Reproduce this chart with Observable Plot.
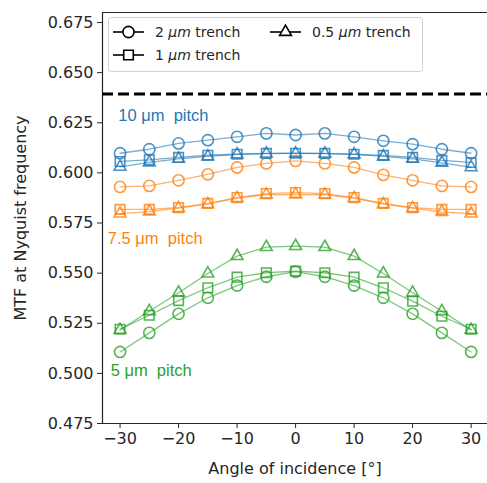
<!DOCTYPE html>
<html>
<head>
<meta charset="utf-8">
<script src="https://cdn.jsdelivr.net/npm/d3@7"></script>
<script src="https://cdn.jsdelivr.net/npm/@observablehq/plot@0.6"></script>
<style>
  html, body { margin: 0; padding: 0; background: #fff; }
  #chart { position: relative; width: 487px; height: 483px; }
</style>
</head>
<body>
<div id="chart"></div>
<script>
// ---- data ----
const angles = [-30, -25, -20, -15, -10, -5, 0, 5, 10, 15, 20, 25, 30];
const pitches = ["10 μm", "7.5 μm", "5 μm"];
const trenches = ["2 μm", "1 μm", "0.5 μm"];
const pitchColors = ["#1f77b4", "#ff7f0e", "#2ca02c"];
const trenchSymbols = ["circle", "square", "triangle"];

// 10 µm pitch
const p10_t2  = [0.6098, 0.6118, 0.6147, 0.6163, 0.6180, 0.6197, 0.6189, 0.6197, 0.6180, 0.6160, 0.6143, 0.6118, 0.6098];
const p10_t1  = [0.6057, 0.6065, 0.6077, 0.6088, 0.6093, 0.6097, 0.6098, 0.6097, 0.6093, 0.6087, 0.6077, 0.6062, 0.6052];
const p10_t05 = [0.6030, 0.6052, 0.6070, 0.6082, 0.6092, 0.6096, 0.6097, 0.6096, 0.6092, 0.6082, 0.6070, 0.6050, 0.6028];
// 7.5 µm pitch
const p75_t2  = [0.5930, 0.5935, 0.5963, 0.5993, 0.6027, 0.6047, 0.6060, 0.6047, 0.6027, 0.5990, 0.5963, 0.5935, 0.5930];
const p75_t1  = [0.5818, 0.5818, 0.5827, 0.5848, 0.5877, 0.5897, 0.5902, 0.5897, 0.5877, 0.5848, 0.5827, 0.5818, 0.5818];
const p75_t05 = [0.5797, 0.5807, 0.5824, 0.5844, 0.5874, 0.5891, 0.5892, 0.5891, 0.5874, 0.5844, 0.5824, 0.5805, 0.5797];
// 5 µm pitch
const p5_t2   = [0.5107, 0.5202, 0.5297, 0.5377, 0.5438, 0.5482, 0.5507, 0.5482, 0.5438, 0.5377, 0.5297, 0.5202, 0.5107];
const p5_t1   = [0.5220, 0.5290, 0.5363, 0.5427, 0.5480, 0.5502, 0.5510, 0.5502, 0.5480, 0.5427, 0.5360, 0.5285, 0.5220];
const p5_t05  = [0.5217, 0.5310, 0.5402, 0.5498, 0.5585, 0.5630, 0.5635, 0.5630, 0.5585, 0.5498, 0.5402, 0.5310, 0.5217];

const seriesValues = [
  [p10_t2, p10_t1, p10_t05],
  [p75_t2, p75_t1, p75_t05],
  [p5_t2, p5_t1, p5_t05]
];

const referenceMTF = 0.6393;

const xTicks = [-30, -20, -10, 0, 10, 20, 30];
const yTicks = [0.475, 0.500, 0.525, 0.550, 0.575, 0.600, 0.625, 0.650, 0.675];
const xDomain = [-33, 32.8];
const yDomain = [0.475, 0.68];

const annotationText = ["10 μm  pitch", "7.5 μm  pitch", "5 μm  pitch"];
const annotationX = [-30.3, -32.1, -31.6];
const annotationY = [0.6286, 0.5673, 0.5014];

// ---- tidy table ----
const rows = [];
pitches.forEach((p, i) => trenches.forEach((t, j) => {
  seriesValues[i][j].forEach((v, k) => rows.push({
    pitch: p, trench: t, symbol: trenchSymbols[j], key: p + "|" + t, angle: angles[k], mtf: v
  }));
}));
const annotations = pitches.map((p, i) => ({pitch: p, text: annotationText[i], x: annotationX[i], y: annotationY[i]}));

const symbolR = {circle: 5.6, square: 5.4, triangle: 4.4};

const chart = Plot.plot({
  width: 487,
  height: 483,
  marginLeft: 102,
  marginRight: 0,
  marginTop: 12,
  marginBottom: 60,
  style: {fontFamily: "DejaVu Sans", fontSize: "16px", color: "#262626", background: "#fff"},
  x: {domain: xDomain},
  y: {domain: yDomain},
  color: {domain: pitches, range: pitchColors},
  marks: [
    Plot.ruleX([xDomain[0]], {stroke: "#262626", strokeWidth: 1.2}),
    Plot.ruleY(yDomain, {stroke: "#262626", strokeWidth: 1.2}),
    Plot.axisX({ticks: xTicks, tickFormat: d3.format("d"), tickSize: 5, tickPadding: 4,
      label: "Angle of incidence [°]", labelAnchor: "center", labelArrow: "none", labelOffset: 50, stroke: "#262626"}),
    Plot.axisY({ticks: yTicks, tickFormat: d3.format(".3f"), tickSize: 5, tickPadding: 4,
      label: "MTF at Nyquist frequency", labelAnchor: "center", labelArrow: "none", labelOffset: 88, stroke: "#262626"}),
    Plot.ruleY([referenceMTF], {stroke: "#000", strokeWidth: 3, strokeDasharray: "11,5"}),
    Plot.line(rows, {x: "angle", y: "mtf", z: "key", stroke: "pitch", strokeWidth: 1.3, strokeOpacity: 0.6}),
    ...trenchSymbols.map(s => Plot.dot(rows.filter(d => d.symbol === s), {
      x: "angle", y: "mtf", stroke: "pitch", symbol: () => s, r: symbolR[s], fill: "none", strokeWidth: 1.6, strokeOpacity: 0.8
    })),
    Plot.text(annotations, {x: "x", y: "y", text: "text", fill: "pitch", textAnchor: "start",
      fontFamily: "Liberation Sans", fontSize: 16.5})
  ]
});
document.getElementById("chart").appendChild(chart);

// ---- legend (inside the SVG, upper left) ----
const svg = d3.select(chart);
const lg = svg.append("g").attr("font-family", "DejaVu Sans").attr("font-size", 14)
  .attr("fill", "#262626").attr("text-anchor", "start");
lg.append("rect").attr("x", 108.5).attr("y", 17.5).attr("width", 314).attr("height", 54).attr("rx", 3)
  .attr("fill", "#fff").attr("fill-opacity", 0.85).attr("stroke", "#d0d0d0");
const legendPos = [[113, 32], [113, 55], [270, 32]];
const sym = d3.symbol();
trenches.forEach((t, j) => {
  const [lx, ly] = legendPos[j];
  const g = lg.append("g").attr("transform", `translate(${lx},${ly})`);
  g.append("line").attr("x1", 0).attr("x2", 31).attr("stroke", "#000").attr("stroke-width", 1.6);
  const r = symbolR[trenchSymbols[j]];
  const type = {circle: d3.symbolCircle, square: d3.symbolSquare, triangle: d3.symbolTriangle}[trenchSymbols[j]];
  g.append("path").attr("transform", "translate(15.5,0)").attr("d", sym.type(type).size(Math.PI * r * r)())
    .attr("fill", "#fff").attr("stroke", "#000").attr("stroke-width", 1.6);
  const parts = t.split(" ");
  const tx = g.append("text").attr("x", 42).attr("dy", "0.35em").attr("text-anchor", "start");
  tx.append("tspan").text(parts[0] + " ");
  tx.append("tspan").attr("font-style", "italic").text(parts[1]);
  tx.append("tspan").text(" trench");
});
</script>
</body>
</html>
